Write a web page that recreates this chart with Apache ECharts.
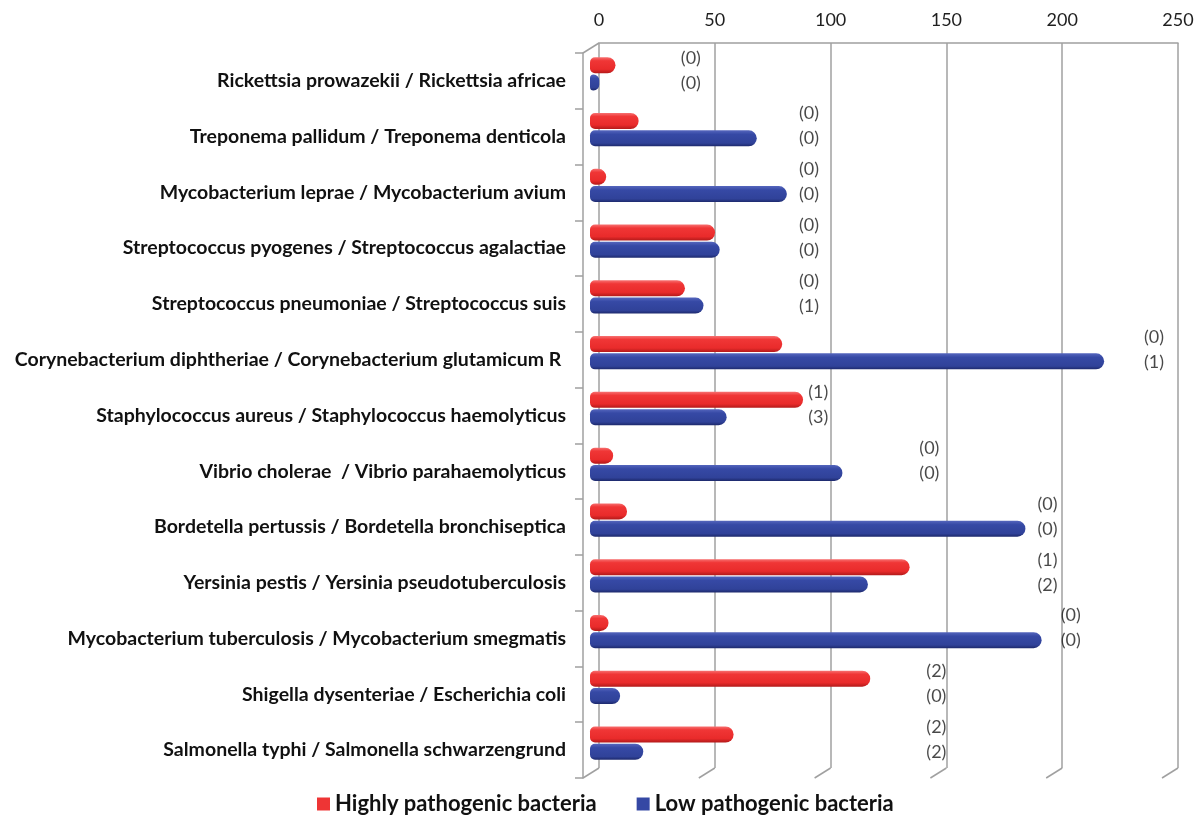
<!DOCTYPE html>
<html>
<head>
<meta charset="utf-8">
<title>Pathogenic vs low pathogenic bacteria</title>
<script src="https://cdn.jsdelivr.net/npm/echarts@6/dist/echarts.min.js"></script>
<style>
  html, body { margin: 0; padding: 0; background: #ffffff; }
  #chart { width: 1197px; height: 818px; }
</style>
</head>
<body>
<div id="chart"></div>
<script>
// Species pairs (highly pathogenic / low pathogenic), top to bottom
const categories = [
  'Rickettsia prowazekii / Rickettsia africae',
  'Treponema pallidum / Treponema denticola',
  'Mycobacterium leprae / Mycobacterium avium',
  'Streptococcus pyogenes / Streptococcus agalactiae',
  'Streptococcus pneumoniae / Streptococcus suis',
  'Corynebacterium diphtheriae / Corynebacterium glutamicum R ',
  'Staphylococcus aureus / Staphylococcus haemolyticus',
  'Vibrio cholerae  / Vibrio parahaemolyticus',
  'Bordetella pertussis / Bordetella bronchiseptica',
  'Yersinia pestis / Yersinia pseudotuberculosis',
  'Mycobacterium tuberculosis / Mycobacterium smegmatis',
  'Shigella dysenteriae / Escherichia coli',
  'Salmonella typhi / Salmonella schwarzengrund'
];

const highlyPathogenic = [11, 21, 7, 54, 41, 83, 92, 10, 16, 138, 8, 121, 62];
const lowPathogenic    = [4, 72, 85, 56, 49, 222, 59, 109, 188, 120, 195, 13, 23];

// Bracketed counts written beside each pair, and where along the value axis they sit
const noteHigh = [0, 0, 0, 0, 0, 0, 1, 0, 0, 1, 0, 2, 2];
const noteLow  = [0, 0, 0, 0, 1, 1, 3, 0, 0, 2, 0, 0, 2];
const noteAt   = [39, 90, 90, 90, 90, 239, 94, 142, 193, 193, 203, 145, 145];

const xTicks = [0, 50, 100, 150, 200, 250];

const seriesNames = ['Highly pathogenic bacteria', 'Low pathogenic bacteria'];

const FONT = 'Lato, "Open Sans", "DejaVu Sans", sans-serif';
const GRID_COLOR = '#a0a0a0';
const DEPTH_X = -16, DEPTH_Y = 10;

const redCylinder = new echarts.graphic.LinearGradient(0, 0, 0, 1, [
  { offset: 0, color: '#f77070' },
  { offset: 0.22, color: '#f03636' },
  { offset: 0.75, color: '#e92b2b' },
  { offset: 1, color: '#b31a1a' }
]);
const blueCylinder = new echarts.graphic.LinearGradient(0, 0, 0, 1, [
  { offset: 0, color: '#5566bd' },
  { offset: 0.25, color: '#3649a5' },
  { offset: 0.8, color: '#304299' },
  { offset: 1, color: '#1d296c' }
]);

const chart = echarts.init(document.getElementById('chart'), null, { renderer: 'canvas' });

// grid 0: back wall (value scale, gridlines), grid 1: front plane (category axis),
// grid 2: the bars themselves, sitting between the two planes
const backGrid  = { left: 599, top: 43, width: 579, height: 725 };
const frontGrid = { left: 583, top: 53, width: 579, height: 725 };
const barGrid   = { left: 590, top: 46, width: 579, height: 725 };

function depthLines(params, api) {
  const cs = params.coordSys;
  const x = api.coord([api.value(0), 0])[0];
  const bottom = cs.y + cs.height;
  const children = [{
    type: 'line',
    shape: { x1: x, y1: bottom, x2: x + DEPTH_X, y2: bottom + DEPTH_Y },
    style: { stroke: GRID_COLOR, lineWidth: 1.5 }
  }];
  if (params.dataIndex === 0) {
    children.push({
      type: 'line',
      shape: { x1: x, y1: cs.y, x2: x + DEPTH_X, y2: cs.y + DEPTH_Y },
      style: { stroke: GRID_COLOR, lineWidth: 1.5 }
    });
  }
  return { type: 'group', children: children };
}

const noteLabel = function (dy) {
  return {
    show: true, position: 'right', distance: 0, offset: [0, dy],
    formatter: function (p) { return '(' + p.value[2] + ')'; },
    color: '#1a1a1a', fontFamily: FONT, fontSize: 18
  };
};

const option = {
  backgroundColor: '#ffffff',
  animation: false,
  grid: [
    Object.assign({ containLabel: false }, backGrid),
    Object.assign({ containLabel: false }, frontGrid),
    Object.assign({ containLabel: false }, barGrid)
  ],
  xAxis: [
    {
      gridIndex: 0, type: 'value', position: 'top',
      min: 0, max: 250, interval: 50,
      axisLine: { show: true, lineStyle: { color: GRID_COLOR, width: 1.5 } },
      axisTick: { show: false },
      axisLabel: { show: true, margin: 14, color: '#1f1f1f', fontFamily: FONT, fontSize: 18 },
      splitLine: { show: true, lineStyle: { color: GRID_COLOR, width: 1.5 } }
    },
    {
      gridIndex: 1, type: 'value', min: 0, max: 250, show: false
    },
    {
      gridIndex: 2, type: 'value', min: 0, max: 250, show: false
    }
  ],
  yAxis: [
    {
      gridIndex: 0, type: 'category', data: categories, inverse: true, show: false
    },
    {
      gridIndex: 1, type: 'category', data: categories, inverse: true,
      axisLine: { show: true, lineStyle: { color: GRID_COLOR, width: 1.5 } },
      axisTick: { show: true, length: 8, lineStyle: { color: GRID_COLOR, width: 1.5 } },
      axisLabel: {
        show: true, margin: 17, color: '#111111',
        fontFamily: FONT, fontSize: 19.5, fontWeight: 'bold'
      },
      splitLine: { show: false }
    },
    {
      gridIndex: 2, type: 'category', data: categories, inverse: true, show: false
    }
  ],
  legend: {
    bottom: 0,
    left: 312,
    padding: [5, 5, 3, 5],
    itemWidth: 13,
    itemHeight: 13,
    itemGap: 40,
    icon: 'rect',
    textStyle: { fontFamily: FONT, fontSize: 22, fontWeight: 'bold', color: '#111111' },
    data: [
      { name: seriesNames[0], itemStyle: { color: '#ee3535' } },
      { name: seriesNames[1], itemStyle: { color: '#3548a4' } }
    ]
  },
  series: [
    {
      type: 'custom',
      xAxisIndex: 0, yAxisIndex: 0,
      silent: true,
      data: xTicks.map(function (v) { return [v, 0]; }),
      renderItem: depthLines,
      z: 1
    },
    {
      name: seriesNames[0],
      type: 'bar',
      xAxisIndex: 2, yAxisIndex: 2,
      data: highlyPathogenic,
      barWidth: 16,
      barGap: '8%',
      itemStyle: { color: redCylinder, borderRadius: [5, 8, 8, 5] },
      z: 3
    },
    {
      name: seriesNames[1],
      type: 'bar',
      xAxisIndex: 2, yAxisIndex: 2,
      data: lowPathogenic,
      barWidth: 16,
      itemStyle: { color: blueCylinder, borderRadius: [5, 8, 8, 5] },
      z: 3
    },
    {
      type: 'scatter',
      xAxisIndex: 2, yAxisIndex: 2,
      silent: true,
      symbolSize: 1,
      itemStyle: { color: 'rgba(0,0,0,0)' },
      data: noteAt.map(function (x, i) { return [x, i, noteHigh[i]]; }),
      label: noteLabel(-16),
      z: 4
    },
    {
      type: 'scatter',
      xAxisIndex: 2, yAxisIndex: 2,
      silent: true,
      symbolSize: 1,
      itemStyle: { color: 'rgba(0,0,0,0)' },
      data: noteAt.map(function (x, i) { return [x, i, noteLow[i]]; }),
      label: noteLabel(9),
      z: 4
    }
  ]
};

chart.setOption(option);
</script>
</body>
</html>
